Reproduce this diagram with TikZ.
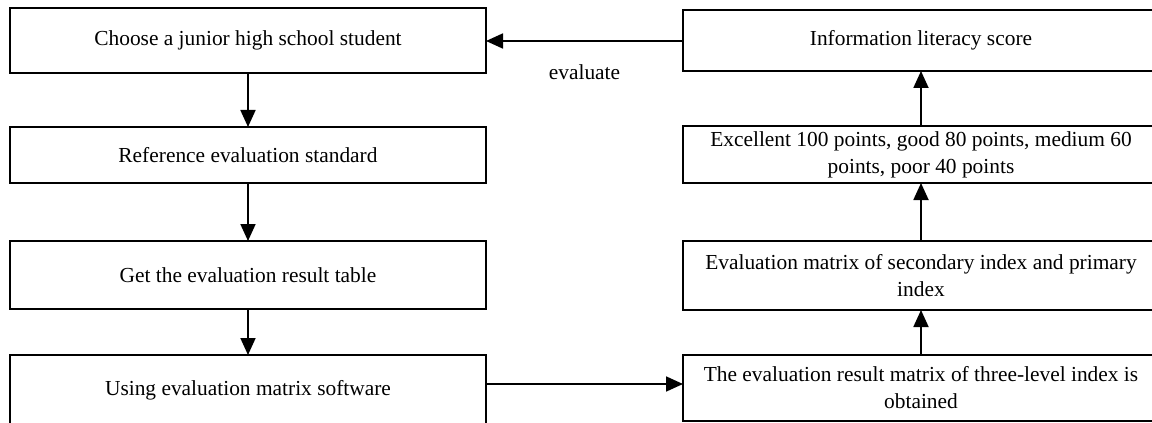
\documentclass[tikz,border=0pt]{standalone}
\usepackage{fontspec}
\setmainfont{Liberation Serif}
\usepackage{tikz}
\usetikzlibrary{arrows.meta,positioning}

\begin{document}
\begin{tikzpicture}[
    node distance=27pt,
    box/.style={rectangle, draw, line width=0.9pt, outer sep=0pt, minimum width=238pt, inner xsep=3pt, inner ysep=1pt, align=center, font=\fontsize{10.7}{13.5}\selectfont},
    arrow/.style={-{Triangle[length=8.5pt,width=7.5pt]}, line width=0.9pt}
]
    \useasboundingbox (-124pt,20.25pt) rectangle (452pt,-191.25pt);

    % left column
    \node[box, minimum height=32.5pt] (choose) at (0,0) {Choose a junior high school student};
    \node[box, minimum height=28pt, below=27pt of choose] (reference) {Reference evaluation standard};
    \node[box, minimum height=34pt, below=29pt of reference] (table) {Get the evaluation result table};
    \node[box, minimum height=35pt, below=23pt of table] (software) {Using evaluation matrix software};

    % right column
    \node[box, minimum height=30.5pt, right=98.5pt of choose] (score) {Information literacy score};
    \node[box, minimum height=28.5pt, below=27.5pt of score] (grade) {Excellent 100 points, good 80 points, medium 60\\points, poor 40 points};
    \node[box, minimum height=34.5pt, below=29pt of grade] (secondary) {Evaluation matrix of secondary index and primary\\index};
    \node[box, minimum height=33pt, below=22.5pt of secondary] (threelevel) {The evaluation result matrix of three-level index is\\obtained};

    \draw[arrow] (choose) -- (reference);
    \draw[arrow] (reference) -- (table);
    \draw[arrow] (table) -- (software);
    \draw[arrow] ([yshift=3pt]software.east) -- ([yshift=2pt]threelevel.west);
    \draw[arrow] (threelevel) -- (secondary);
    \draw[arrow] (secondary) -- (grade);
    \draw[arrow] (grade) -- (score);
    \draw[arrow] ([yshift=-0.25pt]score.west) -- node[below=8pt, font=\fontsize{10.7}{13.5}\selectfont] {evaluate} ([yshift=-0.25pt]choose.east);
\end{tikzpicture}
\end{document}
